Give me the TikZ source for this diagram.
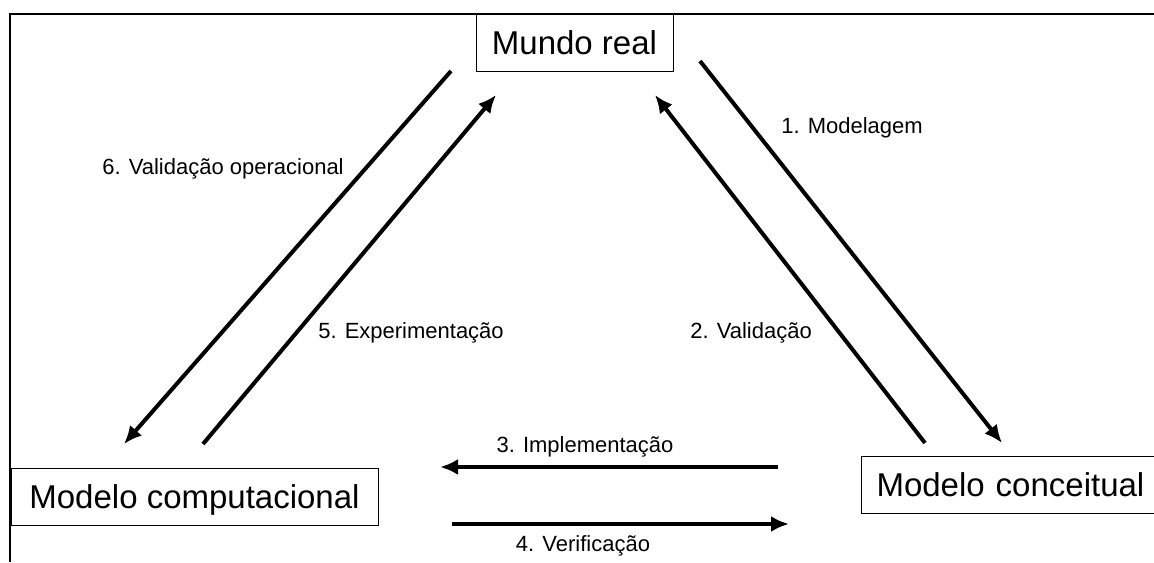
\documentclass[tikz,border=0pt]{standalone}
\usepackage{fontspec}
\setmainfont{Liberation Sans}
\usetikzlibrary{arrows.meta}

\begin{document}
\begin{tikzpicture}[
        x=0.5pt, y=-0.5pt,
        caixa/.style={
            shape=rectangle,
            draw,
            line width=0.5pt,
            minimum height=28.5pt,
            inner sep=0pt,
            text height=12pt,
            text depth=0pt,
            font=\fontsize{16.5}{20}\selectfont
        },
        rotulo/.style={
            anchor=base,
            inner sep=0pt,
            font=\fontsize{11}{13}\selectfont
        },
        seta/.style={draw, line width=2pt, -{Latex[length=9pt, width=8pt]}}
    ]
    \useasboundingbox (0,0) rectangle (1154,562);
    \clip (0,0) rectangle (1154,562);

    % MOLDURA
    \draw[line width=0.9pt] (10,562) -- (10,14) -- (1154,14);

    % CAIXAS
    \node[caixa, minimum width=98.5pt] (real) at (574.5,42.5) {Mundo real};
    \node[caixa, minimum width=183.5pt] (comp) at (194.5,496.5) {Modelo computacional};
    \node[caixa, anchor=west, text width=160pt, align=left] (conc) at (861,484.5)
        {\hspace*{7.5pt}Modelo conceitual};

    % PONTAS DAS SETAS
    \coordinate (m1) at (700,61);
    \coordinate (m2) at (1002,443);
    \coordinate (v1) at (925,443);
    \coordinate (v2) at (655,95);
    \coordinate (i1) at (778,467);
    \coordinate (i2) at (440,467);
    \coordinate (f1) at (452,524);
    \coordinate (f2) at (789,524);
    \coordinate (e1) at (203,444);
    \coordinate (e2) at (496,95);
    \coordinate (o1) at (451,71);
    \coordinate (o2) at (124,444);

    % SETAS
    \draw[seta] (m1) -- (m2);
    \draw[seta] (v1) -- (v2);
    \draw[seta] (i1) -- (i2);
    \draw[seta] (f1) -- (f2);
    \draw[seta] (e1) -- (e2);
    \draw[seta] (o1) -- (o2);

    % ROTULOS
    \node[rotulo] (lmod) at (852,133) {1. Modelagem};
    \node[rotulo] (lval) at (751,338) {2. Validação};
    \node[rotulo] (limp) at (585,452) {3. Implementação};
    \node[rotulo] (lver) at (583,551) {4. Verificação};
    \node[rotulo] (lexp) at (411,338) {5. Experimentação};
    \node[rotulo] (lope) at (223,174) {6. Validação operacional};
\end{tikzpicture}
\end{document}
